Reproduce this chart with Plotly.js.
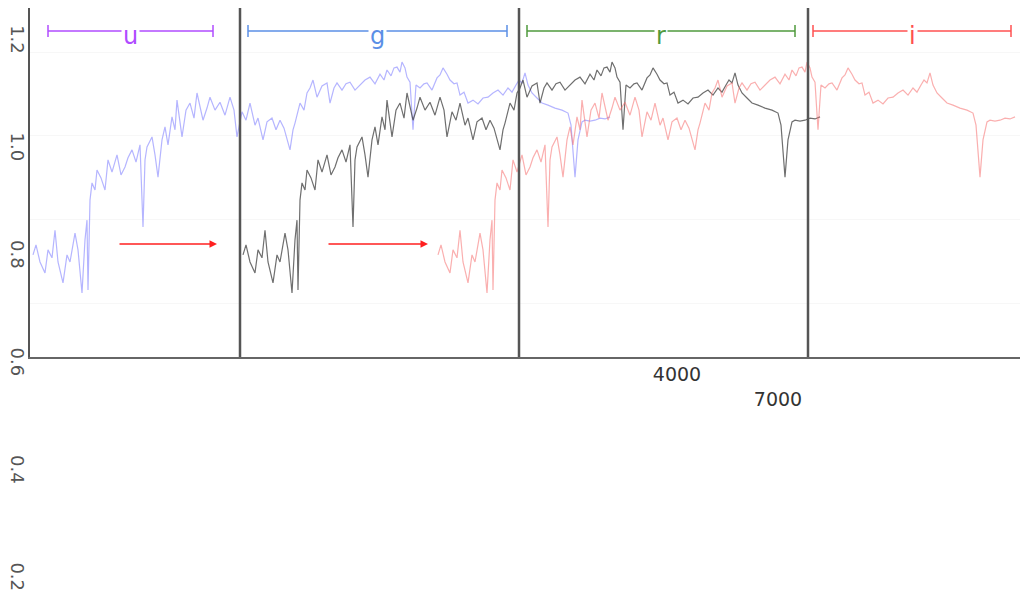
<!DOCTYPE html>
<html>
<head>
<meta charset="utf-8">
<script src="https://cdn.plot.ly/plotly-3.0.1.min.js"></script>
<style>html,body{margin:0;padding:0;background:#fff;}#chart{width:1021px;height:607px;}</style>
</head>
<body>
<div id="chart"></div>
<script>
// Template spectrum (wavelength in Å, normalised flux)
const templateWave = [3021,3042,3070,3105,3126,3154,3175,3196,3231,3259,3280,3315,3336,3364,3385,3399,3406,3420,3434,3455,3469,3497,3525,3546,3574,3609,3637,3665,3686,3714,3742,3770,3791,3805,3819,3854,3875,3896,3924,3945,3966,3994,4015,4029,4064,4092,4120,4148,4169,4190,4211,4239,4260,4295,4330,4365,4400,4428,4449,4484,4512,4540,4575,4596,4631,4659,4694,4722,4750,4778,4820,4841,4855,4890,4918,4939,4960,4981,5009,5044,5079,5100,5128,5149,5184,5212,5240,5275,5310,5345,5380,5415,5450,5478,5499,5527,5548,5569,5590,5604,5625,5639,5660,5681,5702,5730,5758,5779,5814,5849,5870,5891,5919,5940,5968,5989,6010,6038,6066,6101,6136,6171,6206,6241,6276,6311,6346,6374,6402,6423,6444,6465,6486,6514,6549,6584,6626,6675,6724,6766,6787,6815,6836,6864,6885,6920,6955,6990,7025,7060];
const templateFlux = [0.715,0.739,0.698,0.672,0.727,0.708,0.774,0.698,0.648,0.715,0.698,0.767,0.727,0.624,0.751,0.798,0.631,0.846,0.887,0.870,0.918,0.899,0.870,0.942,0.913,0.954,0.906,0.925,0.947,0.966,0.937,0.978,0.782,0.942,0.973,0.997,0.954,0.901,0.990,1.021,0.978,1.045,1.014,1.085,0.997,1.061,1.078,1.042,1.102,1.073,1.037,1.066,1.092,1.061,1.080,1.049,1.092,1.061,0.997,1.057,1.037,1.078,1.025,1.042,0.990,1.033,1.042,1.014,1.037,1.018,0.966,1.014,1.030,1.078,1.061,1.102,1.114,1.133,1.092,1.119,1.126,1.078,1.114,1.126,1.109,1.124,1.128,1.109,1.121,1.133,1.140,1.124,1.147,1.133,1.157,1.143,1.162,1.164,1.152,1.176,1.162,1.140,1.128,1.014,1.121,1.114,1.124,1.126,1.109,1.138,1.145,1.162,1.147,1.133,1.124,1.126,1.097,1.104,1.078,1.085,1.076,1.090,1.092,1.102,1.109,1.097,1.114,1.104,1.121,1.133,1.126,1.150,1.121,1.102,1.090,1.078,1.073,1.066,1.061,1.054,1.025,0.901,0.990,1.033,1.037,1.035,1.037,1.042,1.040,1.045];

// three copies of the spectrum, shifted in wavelength
const seriesNames = ["blue", "black", "red"];
const seriesShift = [0, 1470, 2835];
const seriesColors = ["rgba(120,120,255,0.55)", "rgba(50,50,50,0.7)", "rgba(245,110,110,0.55)"];

// filter bands
const filterNames = ["u", "g", "r", "i"];
const filterStart = [3126, 4526, 6479, 8481];
const filterEnd = [4281, 6339, 8355, 9867];
const filterColors = ["#b04cff", "#5b8fe6", "#4f9a3c", "#ff5050"];
const dividerWave = [4470, 6423, 8446];

// arrows
const arrowTail = [3616, 5079];
const arrowHead = [4309, 5786];
const arrowFlux = 0.741;

// tick labels
const yTickVals = [1.2, 1.0, 0.8, 0.6, 0.4, 0.2];
const xTickVals = [4000, 7000];
const xTickText = ["4000", "<br>7000"];
const gridFlux = [0.6, 0.8, 1.0, 1.2];

const H = 607;
const py = p => 1 - p / H;

const traces = seriesNames.map((n, k) => ({
  type: "scatter", mode: "lines", name: n,
  x: templateWave.map(w => w + seriesShift[k]),
  y: templateFlux,
  line: {color: seriesColors[k], width: 1.2},
  xaxis: "x", yaxis: "y", hoverinfo: "skip"
}));
traces.push({type: "scatter", mode: "lines", x: [], y: [], xaxis: "x2", yaxis: "y2", hoverinfo: "skip"});

const shapes = [];
dividerWave.forEach(w => shapes.push({type: "line", xref: "x", yref: "y domain", x0: w, x1: w, y0: 0, y1: 1, line: {color: "#555", width: 2.5}}));
const annotations = [];
filterNames.forEach((f, k) => {
  const c = filterColors[k];
  shapes.push({type: "line", xref: "x", yref: "paper", x0: filterStart[k], x1: filterEnd[k], y0: py(31), y1: py(31), line: {color: c, width: 1.5}});
  [filterStart[k], filterEnd[k]].forEach(w => shapes.push({type: "line", xref: "x", yref: "paper", x0: w, x1: w, y0: py(25), y1: py(37), line: {color: c, width: 1.5}}));
  annotations.push({xref: "x", yref: "paper", x: (filterStart[k] + filterEnd[k]) / 2, y: py(36), text: f, showarrow: false,
    font: {family: "DejaVu Sans, Arial, sans-serif", size: 24, color: c}, bgcolor: "#fff", xanchor: "center", yanchor: "middle", borderpad: 1});
});
arrowTail.forEach((t, k) => annotations.push({xref: "x", yref: "y", axref: "x", ayref: "y", x: arrowHead[k], y: arrowFlux, ax: t, ay: arrowFlux,
  text: "", showarrow: true, arrowhead: 2, arrowsize: 1, arrowwidth: 1.5, arrowcolor: "#ff2020", standoff: 0, startstandoff: 0}));

const layout = {
  width: 1021, height: 607,
  margin: {l: 30, r: 1, t: 0, b: 0, pad: 0},
  paper_bgcolor: "#fff", plot_bgcolor: "rgba(0,0,0,0)",
  showlegend: false,
  font: {family: "Liberation Sans, Arial, sans-serif"},
  xaxis: {domain: [0, 1], range: [3000, 9930], anchor: "y", showticklabels: false, ticks: "", showgrid: false, zeroline: false,
    showline: true, linecolor: "#666", linewidth: 2},
  yaxis: {domain: [py(357), py(8)], range: [0.4709, 1.3052], anchor: "x", showticklabels: false, ticks: "",
    tickvals: gridFlux, showgrid: true, gridcolor: "#f7f7f7", zeroline: false, showline: true, linecolor: "#555", linewidth: 2.5},
  xaxis2: {domain: [0, 1], anchor: "free", position: py(357), range: [-15218, 14188], tickvals: xTickVals, ticktext: xTickText,
    showgrid: false, zeroline: false, showline: false, ticks: "", ticklabelstandoff: 4, tickfont: {family: "DejaVu Sans, sans-serif", size: 19, color: "#333"}},
  yaxis2: {domain: [0, 1], anchor: "x2", range: [0.1487, 1.2785], tickvals: yTickVals, tickformat: ".1f", tickangle: 90,
    showgrid: false, zeroline: false, showline: false, ticks: "", tickfont: {family: "DejaVu Sans, sans-serif", size: 18, color: "#555"}},
  shapes: shapes,
  annotations: annotations
};

Plotly.newPlot("chart", traces, layout, {staticPlot: true, displayModeBar: false});
</script>
</body>
</html>
